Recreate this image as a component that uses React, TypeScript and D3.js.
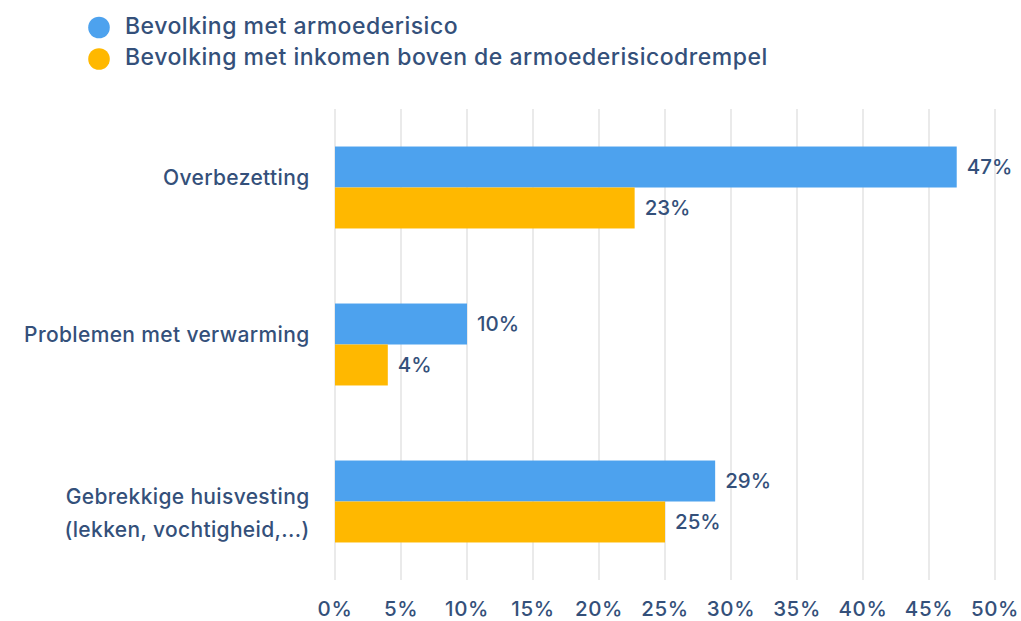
import React from "react";
import * as d3 from "d3";

const categories: string[][] = [
  ["Overbezetting"],
  ["Problemen met verwarming"],
  ["Gebrekkige huisvesting", "(lekken, vochtigheid,...)"],
];
const seriesNames = [
  "Bevolking met armoederisico",
  "Bevolking met inkomen boven de armoederisicodrempel",
];
const armoede = [47.1, 10, 28.8];
const boven = [22.7, 4, 25];
const labelsArmoede = ["47%", "10%", "29%"];
const labelsBoven = ["23%", "4%", "25%"];
const xTicks = [0, 5, 10, 15, 20, 25, 30, 35, 40, 45, 50];

const colors = ["#4DA2EE", "#FFB800"];
const textColor = "#34507A";
const font = "Inter, 'Open Sans', sans-serif";

export default function App() {
  const W = 1021, H = 621;
  const x0 = 335, x1 = 995, yTop = 109, yBot = 580;
  const x = d3.scaleLinear().domain([0, 50]).range([x0, x1]);
  const y = d3
    .scaleBand<number>()
    .domain(categories.map((_, i) => i))
    .range([yTop, yBot])
    .paddingInner(0.478)
    .paddingOuter(0.239);
  const bh = y.bandwidth() / 2;
  const series = [armoede, boven];
  const labels = [labelsArmoede, labelsBoven];

  return (
    <svg
      width={W}
      height={H}
      style={{ position: "absolute", left: 0, top: 0, background: "#fff" }}
      fontFamily={font}
    >
      {seriesNames.map((n, i) => (
        <g key={n}>
          <circle cx={99} cy={27.5 + i * 31.5} r={10.8} fill={colors[i]} />
          <text
            x={125}
            y={25.5 + i * 31.5}
            dy="0.35em"
            fontSize={23}
            fontWeight={500}
            letterSpacing={0.5}
            fill={textColor}
          >
            {n}
          </text>
        </g>
      ))}
      {xTicks.map((t) => (
        <g key={t}>
          <line
            x1={x(t)}
            x2={x(t)}
            y1={yTop}
            y2={yBot}
            stroke="#e3e3e3"
            strokeWidth={1.5}
          />
          <text
            x={x(t)}
            y={609}
            dy="0.35em"
            textAnchor="middle"
            fontSize={20.5}
            fontWeight={500}
            letterSpacing={0.6}
            fill={textColor}
          >
            {t}%
          </text>
        </g>
      ))}
      {categories.map((c, i) => {
        const cy = (y(i) as number) + y.bandwidth() / 2;
        const off = c.length === 1 ? -10 : -5;
        return (
          <g key={i}>
            {c.map((line, j) => (
              <text
                key={j}
                x={309.5}
                y={cy + off + j * 33}
                dy="0.35em"
                textAnchor="end"
                fontSize={21}
                fontWeight={500}
                letterSpacing={0.35}
                fill={textColor}
              >
                {line}
              </text>
            ))}
            {series.map((s, k) => (
              <g key={k}>
                <rect
                  x={x(0)}
                  y={(y(i) as number) + k * bh}
                  width={x(s[i]) - x(0)}
                  height={bh}
                  fill={colors[k]}
                />
                <text
                  x={x(s[i]) + 10}
                  y={(y(i) as number) + k * bh + bh / 2}
                  dy="0.35em"
                  fontSize={20.5}
                  fontWeight={500}
                  fill={textColor}
                >
                  {labels[k][i]}
                </text>
              </g>
            ))}
          </g>
        );
      })}
    </svg>
  );
}
